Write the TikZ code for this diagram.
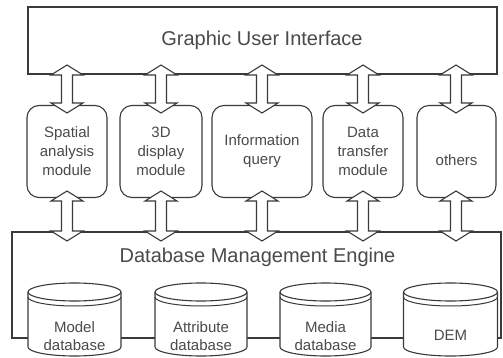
\documentclass[tikz,border=0pt]{standalone}
\usepackage{fontspec}
\setmainfont{Liberation Sans}
\usetikzlibrary{calc}
\definecolor{ln}{HTML}{3A3A3A}
\definecolor{tx}{HTML}{4A4A4A}
\tikzset{
  box/.style={draw=ln, fill=white, line width=1.1pt, inner sep=0pt},
  modbox/.style={box, rounded corners=12pt, minimum height=92pt, font=\fontsize{15}{19}\selectfont, text=tx, align=center},
  titletxt/.style={font=\fontsize{20}{24}\selectfont, text=tx, inner sep=0pt},
  dbtxt/.style={font=\fontsize{15}{18}\selectfont, text=tx, align=center, inner sep=0pt},
  blockarr/.style={draw=ln, fill=white, line width=1.1pt, line join=miter},
  cylst/.style={draw=ln, fill=white, line width=1.1pt},
}
\newcommand{\dblarrow}[2]{%
  \draw[blockarr] (#1) -- ++(16,10) -- ++(-10.5,0) -- ($(#2)+(5.5,-10)$) -- ++(10.5,0) -- (#2)
    -- ++(-16,-10) -- ++(10.5,0) -- ($(#1)+(-5.5,10)$) -- ++(-10.5,0) -- cycle;
}
\newcommand{\dbcyl}[2]{%
  \draw[cylst] ({#1-#2},292) -- ({#1-#2},347) arc[start angle=180,end angle=0,x radius=#2,y radius=9]
    -- ({#1+#2},292) arc[start angle=0,end angle=-180,x radius=#2,y radius=9] -- cycle;
  \draw[ln, line width=1.1pt] ({#1-#2},292) arc[start angle=180,end angle=0,x radius=#2,y radius=9];
  \draw[ln, line width=1pt] ({#1-#2},297) arc[start angle=180,end angle=0,x radius=#2,y radius=9];
}
\begin{document}
\begin{tikzpicture}[x=1pt,y=-1pt]
\useasboundingbox (0,0) rectangle (503,358);
% GUI
\node[box, minimum width=469pt, minimum height=67pt] (gui) at (262.5,40.5) {};
\node[titletxt] (guit) at (262,40) {Graphic User Interface};
% Modules
\node[modbox, minimum width=80pt] (m1) at (67,151.5) {Spatial\\analysis\\module};
\node[modbox, minimum width=82pt] (m2) at (161,151.5) {3D\\display\\module};
\node[modbox, minimum width=100pt] (m3) at (262,151.5) {Information\\query};
\node[modbox, minimum width=80pt] (m4) at (363,151.5) {Data\\transfer\\module};
\node[modbox, minimum width=79pt] (m5) at (456.5,151.5) {};
\node[dbtxt] (m5t) at (456.5,160) {others};
% DB engine
\node[box, minimum width=489pt, minimum height=106pt] (dbe) at (256.5,285) {};
\node[titletxt] (dbet) at (257.5,257) {Database Management Engine};
% Arrow tips
\foreach \i/\cx in {1/67,2/161,3/262,4/363,5/456}{
  \coordinate (ua\i) at (\cx,65);
  \coordinate (ub\i) at (\cx,113);
  \coordinate (la\i) at (\cx,191);
  \coordinate (lb\i) at (\cx,241);
}
\foreach \i in {1,...,5}{
  \dblarrow{ua\i}{ub\i}
  \dblarrow{la\i}{lb\i}
}
% Cylinders
\dbcyl{74.5}{46.5}
\dbcyl{201}{46}
\dbcyl{325.5}{45.5}
\dbcyl{450.5}{47}
\node[dbtxt] (d1) at (74.5,336) {Model\\database};
\node[dbtxt] (d2) at (201,336) {Attribute\\database};
\node[dbtxt] (d3) at (325.5,336) {Media\\database};
\node[dbtxt] (d4) at (450.5,335) {DEM};
\end{tikzpicture}
\end{document}
